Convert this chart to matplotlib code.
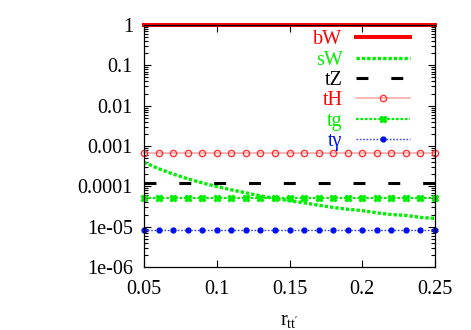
import matplotlib
matplotlib.use('Agg')
import matplotlib.pyplot as plt
from matplotlib.ticker import LogLocator, FixedLocator, NullFormatter


R_TT = [0.05, 0.06, 0.07, 0.08, 0.09, 0.10, 0.11, 0.12, 0.13, 0.14, 0.15,
        0.16, 0.17, 0.18, 0.19, 0.20, 0.21, 0.22, 0.23, 0.24, 0.25]

BW = [1.0] * 21
SW = [3.95e-4, 2.74e-4, 2.02e-4, 1.54e-4, 1.22e-4, 9.9e-5, 8.2e-5, 6.9e-5,
      5.8e-5, 5.0e-5, 4.4e-5, 3.9e-5, 3.4e-5, 3.0e-5, 2.7e-5, 2.5e-5,
      2.2e-5, 2.0e-5, 1.9e-5, 1.7e-5, 1.6e-5]
TZ = [1.23e-4] * 21
TH = [6.8e-4] * 21
TG = [5.0e-5] * 21
TGAMMA = [8.3e-6] * 21

X_TICKS = [0.05, 0.1, 0.15, 0.2, 0.25]
X_TICK_LABELS = ['0.05', '0.1', '0.15', '0.2', '0.25']
Y_TICKS = [1e-6, 1e-5, 1e-4, 1e-3, 1e-2, 1e-1, 1]
Y_TICK_LABELS = ['1e-06', '1e-05', '0.0001', '0.001', '0.01', '0.1', '1']


def Main():
    plt.rcParams['font.family'] = ['Liberation Serif', 'DejaVu Serif']
    plt.rcParams['mathtext.fontset'] = 'custom'
    plt.rcParams['mathtext.rm'] = 'Liberation Serif'
    plt.rcParams['mathtext.it'] = 'Liberation Serif'

    fig = plt.figure(figsize=(4.71, 3.3), dpi=100)
    ax = fig.add_axes([0.3057, 0.1909, 0.6179, 0.7333])

    ax.plot(R_TT, BW, color='#ff0000', lw=2.9, label='bW', clip_on=False)
    ax.plot(R_TT, SW, color='#00ee00', lw=2.4, ls=(0, (1, 0.6)), label='sW')
    ax.plot(R_TT, TZ, color='black', lw=2.2, ls=(0, (3.9, 7.5)), label='tZ')
    ax.plot(R_TT, TH, color='#ffaaaa', lw=1.2, marker='o', ms=4.5, mfc='none',
            mec='#ff3333', mew=1.0, label='tH', clip_on=False)
    ax.plot(R_TT, TG, color='#00ee00', lw=1.6, ls=(0, (1.2, 0.8)), marker='X', ms=5,
            mfc='#00ee00', mec='#00ee00', label='tg', clip_on=False)
    ax.plot(R_TT, TGAMMA, color='#3344ff', lw=1.0, ls=(0, (1.2, 1.2)), marker='o', ms=3.5,
            mfc='#0011ee', mec='#0011ee', label='t\u03b3', clip_on=False)

    ax.set_yscale('log')
    ax.set_xlim(0.05, 0.25)
    ax.set_ylim(1e-6, 1)

    ax.xaxis.set_major_locator(FixedLocator(X_TICKS))
    ax.set_xticklabels(X_TICK_LABELS)
    ax.yaxis.set_major_locator(FixedLocator(Y_TICKS))
    ax.set_yticklabels(Y_TICK_LABELS)
    ax.yaxis.set_minor_locator(LogLocator(base=10, subs=[2, 3, 4, 5, 6, 7, 8, 9]))
    ax.yaxis.set_minor_formatter(NullFormatter())

    ax.tick_params(which='both', direction='in', top=True, right=True,
                   labelsize=14.5, width=0.8)
    ax.tick_params(which='major', length=5)
    ax.tick_params(axis='y', which='major', pad=8)
    ax.tick_params(axis='x', which='major', pad=9)
    ax.tick_params(which='minor', length=3)
    for spine in ax.spines.values():
        spine.set_linewidth(0.9)

    ax.set_xlabel(r"$\mathrm{r_{tt'}}$", fontsize=14.5, labelpad=9)

    leg = ax.legend(loc='upper right', bbox_to_anchor=(0.914, 0.978), frameon=False,
                    markerfirst=False, numpoints=1, handlelength=2.7,
                    handletextpad=0.65, labelspacing=0.06, fontsize=14.5,
                    borderaxespad=0, borderpad=0)
    colors = ['#ff0000', '#00ee00', 'black', '#ff0000', '#00ee00', '#0011ee']
    for text, color in zip(leg.get_texts(), colors):
        text.set_color(color)

    fig.savefig('out.png', dpi=100)


if __name__ == '__main__':
    Main()
